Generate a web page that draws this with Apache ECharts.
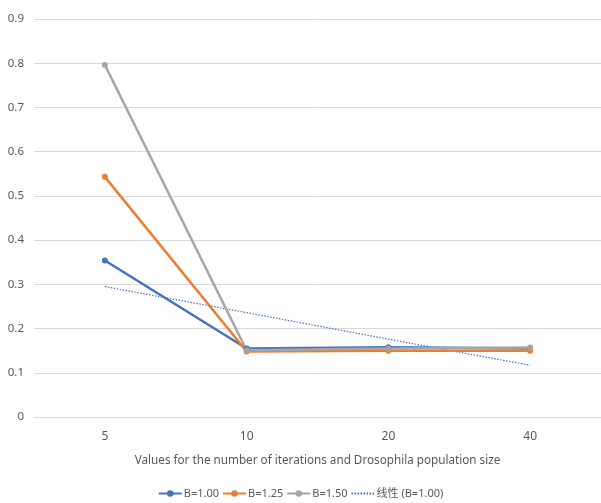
<!DOCTYPE html>
<html><head><meta charset="utf-8">
<script src="https://cdn.jsdelivr.net/npm/echarts@6/dist/echarts.min.js"></script>
<style>html,body{margin:0;padding:0;background:#fff}#c{width:601px;height:503px}</style>
</head><body><div id="c"></div>
<script>
const categories = ['5', '10', '20', '40'];
const seriesB100 = [0.354, 0.155, 0.158, 0.155];
const seriesB125 = [0.543, 0.148, 0.150, 0.150];
const seriesB150 = [0.796, 0.151, 0.155, 0.157];
const trendB100 = [0.295, 0.236, 0.176, 0.117];
const yTicks = [0, 0.1, 0.2, 0.3, 0.4, 0.5, 0.6, 0.7, 0.8, 0.9];
const xAxisTitle = 'Values for the number of iterations and Drosophila population size';
const seriesNames = ['B=1.00', 'B=1.25', 'B=1.50', '线性 (B=1.00)'];

const font = '"Liberation Sans Narrow", "Noto Sans", "Noto Sans CJK SC", sans-serif';
const txt = '#595959';
const chart = echarts.init(document.getElementById('c'));
function lineSeries(name, data, color) {
  return {
    name, type: 'line', data, symbol: 'circle', symbolSize: 6,
    lineStyle: { color, width: 2.5 }, itemStyle: { color },
    emphasis: { disabled: true }, z: 3
  };
}
chart.setOption({
  animation: false,
  textStyle: { fontFamily: font },
  grid: { left: 34, right: -2, top: 19, bottom: 86, containLabel: false },
  xAxis: {
    type: 'category', data: categories, boundaryGap: true,
    axisLine: { show: true, lineStyle: { color: '#d9d9d9' } },
    axisTick: { show: false },
    axisLabel: { color: txt, fontSize: 12, margin: 14, fontFamily: font },
    name: xAxisTitle, nameLocation: 'middle', nameGap: 38,
    nameTextStyle: { color: txt, fontSize: 11.7, fontFamily: font }
  },
  yAxis: {
    type: 'value', min: 0, max: 0.9, interval: 0.1,
    axisLine: { show: false }, axisTick: { show: false },
    axisLabel: { color: txt, fontSize: 11.5, margin: 10, fontFamily: font,
      formatter: v => { const t = yTicks.find(k => Math.abs(k - v) < 1e-9); return t === 0 ? '0' : String(t); } },
    splitLine: { lineStyle: { color: '#d9d9d9', width: 1 } }
  },
  legend: {
    bottom: -1, left: 'center', itemGap: 3, itemWidth: 23, itemHeight: 8,
    textStyle: { color: txt, fontSize: 11, fontFamily: font, padding: [0, 0, 0, -3] },
    data: [
      { name: seriesNames[0] },
      { name: seriesNames[1] },
      { name: seriesNames[2] },
      { name: seriesNames[3], itemStyle: { opacity: 0 } }
    ]
  },
  series: [
    lineSeries(seriesNames[0], seriesB100, '#4472C4'),
    lineSeries(seriesNames[1], seriesB125, '#ED7D31'),
    lineSeries(seriesNames[2], seriesB150, '#A5A5A5'),
    {
      name: seriesNames[3], type: 'line', data: trendB100, symbol: 'none',
      lineStyle: { color: '#4472C4', width: 1.2, type: [1.5, 1.5] },
      itemStyle: { color: '#4472C4' }, emphasis: { disabled: true }, z: 2
    }
  ]
});
</script></body></html>
